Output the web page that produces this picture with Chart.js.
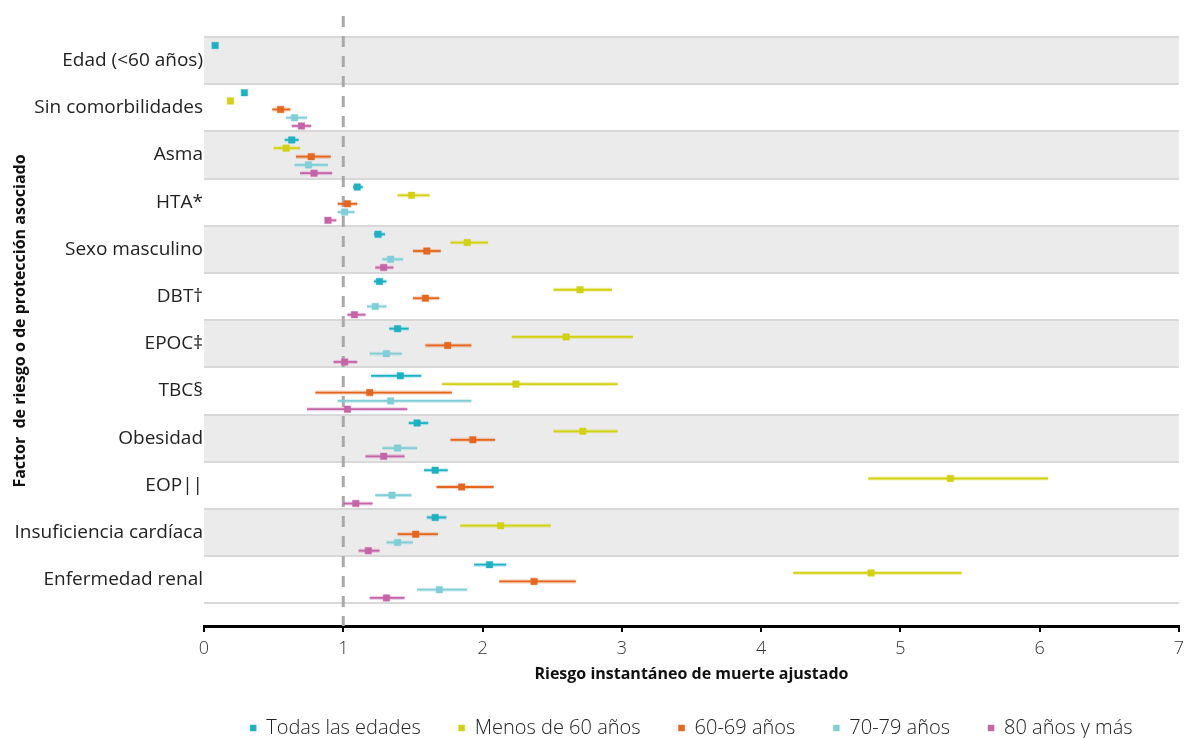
<!DOCTYPE html>
<html>
<head>
<meta charset="utf-8">
<script src="https://cdn.jsdelivr.net/npm/chart.js@4.4.1/dist/chart.umd.min.js"></script>
<style>
	html, body { margin: 0; padding: 0; background: #fff; }
	#wrap { width: 1190px; height: 738px; }
</style>
</head>
<body>
<div id="wrap"><canvas id="myChart"></canvas></div>
<script>
const FACTORES = [
	'Edad (<60 años)', 'Sin comorbilidades', 'Asma', 'HTA*', 'Sexo masculino', 'DBT†',
	'EPOC‡', 'TBC§', 'Obesidad', 'EOP||', 'Insuficiencia cardíaca', 'Enfermedad renal'
];
const SERIES = ['Todas las edades', 'Menos de 60 años', '60-69 años', '70-79 años', '80 años y más'];
const COLORES = ['#1cb2c4', '#d2d112', '#e4661f', '#80ced6', '#c565a8'];
const X_TICKS = [0, 1, 2, 3, 4, 5, 6, 7];

// hazard ratio + IC95% por grupo de edad (null = no se muestra)
const TODAS_HR = [0.08, 0.29, 0.63, 1.10, 1.25, 1.26, 1.39, 1.41, 1.53, 1.66, 1.66, 2.05];
const TODAS_LO = [null, null, 0.58, 1.07, 1.22, 1.22, 1.33, 1.20, 1.47, 1.58, 1.60, 1.94];
const TODAS_HI = [null, null, 0.68, 1.14, 1.30, 1.31, 1.47, 1.56, 1.61, 1.75, 1.74, 2.17];

const MENOS60_HR = [null, 0.19, 0.59, 1.49, 1.89, 2.70, 2.60, 2.24, 2.72, 5.36, 2.13, 4.79];
const MENOS60_LO = [null, null, 0.50, 1.39, 1.77, 2.51, 2.21, 1.71, 2.51, 4.77, 1.84, 4.23];
const MENOS60_HI = [null, null, 0.69, 1.62, 2.04, 2.93, 3.08, 2.97, 2.97, 6.06, 2.49, 5.44];

const E6069_HR = [null, 0.55, 0.77, 1.03, 1.60, 1.59, 1.75, 1.19, 1.93, 1.85, 1.52, 2.37];
const E6069_LO = [null, 0.49, 0.66, 0.96, 1.50, 1.50, 1.59, 0.80, 1.77, 1.67, 1.39, 2.12];
const E6069_HI = [null, 0.62, 0.91, 1.10, 1.70, 1.69, 1.92, 1.78, 2.09, 2.08, 1.68, 2.67];

const E7079_HR = [null, 0.65, 0.75, 1.01, 1.34, 1.23, 1.31, 1.34, 1.39, 1.35, 1.39, 1.69];
const E7079_LO = [null, 0.59, 0.65, 0.96, 1.28, 1.17, 1.19, 0.96, 1.28, 1.23, 1.31, 1.53];
const E7079_HI = [null, 0.74, 0.89, 1.08, 1.43, 1.31, 1.42, 1.92, 1.53, 1.49, 1.50, 1.89];

const E80_HR = [null, 0.70, 0.79, 0.89, 1.29, 1.08, 1.01, 1.03, 1.29, 1.09, 1.18, 1.31];
const E80_LO = [null, 0.63, 0.69, 0.87, 1.23, 1.03, 0.93, 0.74, 1.16, 1.00, 1.11, 1.19];
const E80_HI = [null, 0.77, 0.92, 0.95, 1.36, 1.16, 1.10, 1.46, 1.44, 1.21, 1.26, 1.44];

const GRUPOS = [
	[TODAS_HR, TODAS_LO, TODAS_HI],
	[MENOS60_HR, MENOS60_LO, MENOS60_HI],
	[E6069_HR, E6069_LO, E6069_HI],
	[E7079_HR, E7079_LO, E7079_HI],
	[E80_HR, E80_LO, E80_HI]
];

// vertical slot of each age group inside a row
const SLOT = [0.18, 0.355, 0.535, 0.71, 0.885];

const FONT = "'Open Sans', sans-serif";
Chart.defaults.font.family = FONT;
Chart.defaults.color = '#222';

function alpha(hex, a) {
	const n = parseInt(hex.slice(1), 16);
	return `rgba(${n >> 16},${(n >> 8) & 255},${n & 255},${a})`;
}

const datasets = GRUPOS.map(([hr, lo, hi], j) => ({
	label: SERIES[j],
	data: hr.map((v, i) => v == null ? null : { x: v, y: i + SLOT[j], lo: lo[i], hi: hi[i] }).filter(Boolean),
	pointStyle: 'rect',
	pointRadius: 4.6,
	backgroundColor: COLORES[j],
	borderColor: alpha(COLORES[j], 0.45),
	borderWidth: 1
}));

// grey bands, row separators, reference line and CI whiskers
const fondo = {
	id: 'fondo',
	beforeDatasetsDraw(chart) {
		const { ctx, chartArea: a, scales: { x, y } } = chart;
		ctx.save();
		FACTORES.forEach((_, i) => {
			if (i % 2) return;
			const y0 = y.getPixelForValue(i), y1 = y.getPixelForValue(i + 1);
			ctx.fillStyle = '#ebebeb';
			ctx.fillRect(a.left, y0, a.right - a.left, y1 - y0);
		});
		ctx.strokeStyle = '#d8d8d8';
		ctx.lineWidth = 2;
		for (let i = 0; i <= FACTORES.length; i++) {
			const py = Math.round(y.getPixelForValue(i));
			ctx.beginPath();
			ctx.moveTo(a.left, py);
			ctx.lineTo(a.right, py);
			ctx.stroke();
		}
		const px1 = x.getPixelForValue(1);
		ctx.strokeStyle = '#a9a9a9';
		ctx.lineWidth = 3;
		ctx.setLineDash([11, 9]);
		ctx.beginPath();
		ctx.moveTo(px1, a.top);
		ctx.lineTo(px1, a.bottom);
		ctx.stroke();
		ctx.setLineDash([]);

		chart.data.datasets.forEach((ds, j) => {
			ds.data.forEach(p => {
				if (p.lo == null || p.hi == null) return;
				const py = y.getPixelForValue(p.y);
				const xa = x.getPixelForValue(p.lo), xb = x.getPixelForValue(p.hi);
				ctx.strokeStyle = alpha(COLORES[j], 0.3);
				ctx.lineWidth = 4;
				ctx.beginPath(); ctx.moveTo(xa, py); ctx.lineTo(xb, py); ctx.stroke();
				ctx.strokeStyle = COLORES[j];
				ctx.lineWidth = 1.8;
				ctx.beginPath(); ctx.moveTo(xa, py); ctx.lineTo(xb, py); ctx.stroke();
			});
		});
		ctx.restore();
	}
};

const LEGEND_PAD = 38;

new Chart(document.getElementById('myChart'), {
	type: 'scatter',
	data: { datasets },
	plugins: [fondo],
	options: {
		responsive: true,
		maintainAspectRatio: false,
		animation: false,
		layout: { padding: { top: 16, right: 10, left: 0, bottom: -10 } },
		scales: {
			x: {
				type: 'linear',
				min: 0,
				max: 7,
				afterBuildTicks: s => { s.ticks = X_TICKS.map(value => ({ value })); },
				afterFit: s => { s.height = 92 - LEGEND_PAD; },
				grid: { drawOnChartArea: false, drawTicks: true, tickLength: 6, color: '#000', lineWidth: 2 },
				border: { display: true, color: '#000', width: 3 },
				ticks: { font: { size: 18, weight: 300 }, color: '#333', padding: 6 },
				title: {
					display: true,
					text: 'Riesgo instantáneo de muerte ajustado',
					font: { size: 16, weight: 'bold' },
					color: '#111',
					padding: { top: 2, bottom: -4 }
				}
			},
			y: {
				type: 'linear',
				reverse: true,
				min: -0.445,
				max: 12.48,
				afterBuildTicks: s => { s.ticks = FACTORES.map((_, i) => ({ value: i + 0.5 })); },
				afterFit: s => { s.width = 204; },
				grid: { display: false, drawTicks: false },
				border: { display: false },
				ticks: {
					font: { size: 19 },
					color: '#222',
					padding: 1,
					callback: v => FACTORES[Math.floor(v)]
				},
				title: {
					display: true,
					text: 'Factor  de riesgo o de protección asociado',
					font: { size: 16, weight: 'bold' },
					color: '#111',
					padding: { top: 11, bottom: 0 }
				}
			}
		},
		plugins: {
			tooltip: { enabled: false },
			legend: {
				position: 'bottom',
				fullSize: false,
				labels: {
					usePointStyle: true,
					pointStyle: 'rect',
					boxWidth: 6,
					boxHeight: 6,
					padding: LEGEND_PAD,
					font: { size: 20, weight: 300 },
					color: '#222'
				}
			}
		}
	}
});
</script>
</body>
</html>
